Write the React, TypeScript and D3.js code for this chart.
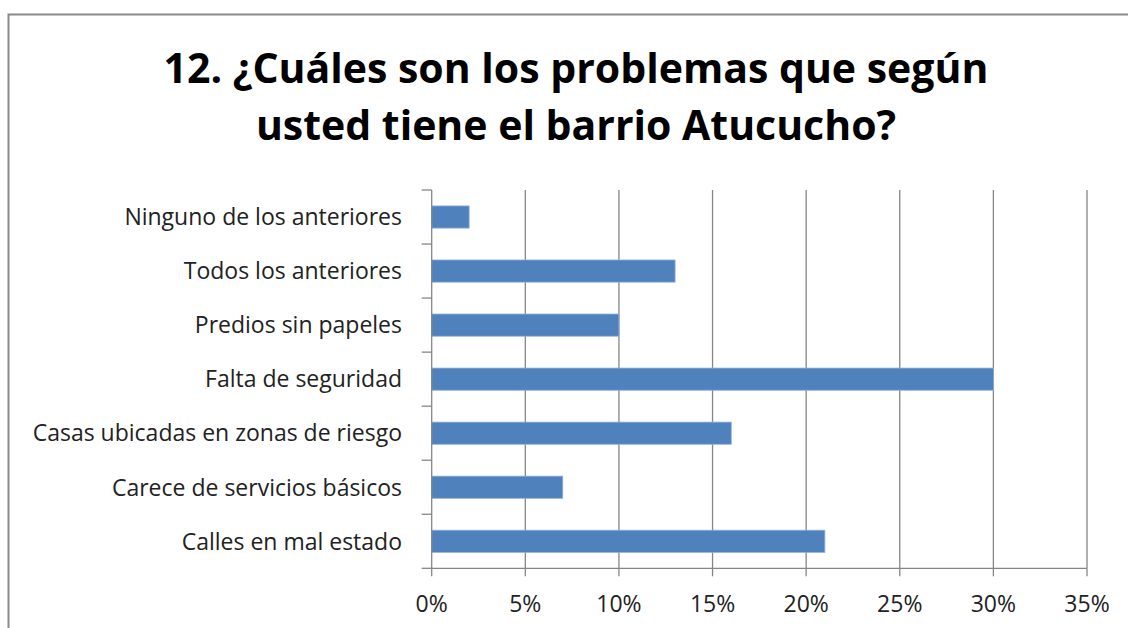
import React from "react";
import * as d3 from "d3";

const categories = [
  "Ninguno de los anteriores",
  "Todos los anteriores",
  "Predios sin papeles",
  "Falta de seguridad",
  "Casas ubicadas en zonas de riesgo",
  "Carece de servicios básicos",
  "Calles en mal estado",
];
const values = [2, 13, 10, 30, 16, 7, 21];
const xTicks = [0, 5, 10, 15, 20, 25, 30, 35];
const titleLines = ["12. ¿Cuáles son los problemas que según", "usted tiene el barrio Atucucho?"];

export default function App() {
  const W = 1128, H = 628;
  const left = 431.7, right = 1087, top = 190, bottom = 568.3;
  const x = d3.scaleLinear().domain([0, 35]).range([left, right]);
  const y = d3.scaleBand<string>().domain(categories).range([top, bottom]).paddingInner(0.59).paddingOuter(0.295);
  const step = y.step();
  const boundaries = d3.range(categories.length + 1).map((i) => top + i * step);
  const font = "'Open Sans', 'Noto Sans', sans-serif";
  const axisColor = "#868686";
  return (
    <svg width={W} height={H} style={{ position: "absolute", left: 0, top: 0, display: "block" }} xmlns="http://www.w3.org/2000/svg">
      <rect x={0} y={0} width={W} height={H} fill="#fff" />
      <rect x={8.5} y={14.5} width={1130} height={640} fill="#fff" stroke="#8a8a8a" strokeWidth={2} />
      {titleLines.map((t, i) => (
        <text key={i} x={576} y={83 + i * 57} textAnchor="middle" fontFamily={font} fontWeight="bold" fontSize={41} fill="#000">
          {t}
        </text>
      ))}
      {xTicks.slice(1).map((t) => (
        <line key={t} x1={x(t)} x2={x(t)} y1={top} y2={bottom} stroke={axisColor} strokeWidth={1.3} />
      ))}
      {categories.map((c, i) => (
        <rect key={c} x={x(0)} y={y(c)} width={x(values[i]) - x(0)} height={y.bandwidth()} fill="#4F81BD" stroke="#8fb0da" strokeWidth={0.8} />
      ))}
      <line x1={left} x2={left} y1={top} y2={bottom} stroke={axisColor} strokeWidth={1.3} />
      <line x1={left} x2={right} y1={bottom} y2={bottom} stroke={axisColor} strokeWidth={1.3} />
      {boundaries.map((b, i) => (
        <line key={i} x1={left - 10} x2={left} y1={b} y2={b} stroke={axisColor} strokeWidth={1.3} />
      ))}
      {xTicks.map((t) => (
        <line key={t} x1={x(t)} x2={x(t)} y1={bottom} y2={bottom + 8} stroke={axisColor} strokeWidth={1.3} />
      ))}
      {categories.map((c) => (
        <text key={c} x={402} y={(y(c) as number) + y.bandwidth() / 2} dy="0.36em" textAnchor="end" fontFamily={font} fontSize={23} fill="#222">
          {c}
        </text>
      ))}
      {xTicks.map((t) => (
        <text key={t} x={x(t)} y={612} textAnchor="middle" fontFamily={font} fontSize={23} fill="#222">
          {t + "%"}
        </text>
      ))}
    </svg>
  );
}
